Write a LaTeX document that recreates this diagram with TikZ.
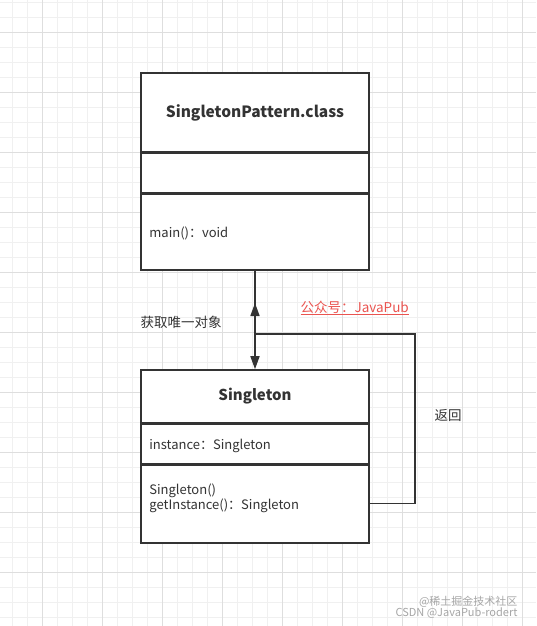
\documentclass[tikz,border=0pt]{standalone}
\usepackage{fontspec}
\setmainfont{Noto Sans CJK SC}
\usepackage{xcolor}
\usepackage{tikz}
\usetikzlibrary{positioning, arrows.meta}
\definecolor{umlline}{RGB}{51, 51, 51}
\definecolor{redanno}{RGB}{234, 84, 80}
\definecolor{gridminor}{RGB}{240, 240, 240}
\definecolor{gridmajor}{RGB}{222, 222, 222}

\begin{document}
\begin{tikzpicture}[x=1pt, y=-1pt,
  classbox/.style={draw=umlline, line width=1.6pt, fill=white, minimum width=228pt, inner sep=0pt},
  member/.style={anchor=west, inner sep=0pt, font=\fontsize{13}{15}\selectfont, text=umlline},
  sep/.style={umlline, line width=2.6pt},
  conn/.style={umlline, line width=1.6pt},
  tip/.style={-{Triangle[length=13pt, width=9pt]}},
  anno/.style={font=\fontsize{13.5}{15}\selectfont, text=umlline}]
\useasboundingbox (0,0) rectangle (536,626);
\fill[white] (0,0) rectangle (536,626);
\foreach \gx in {12,27,...,536} \draw[gridminor, line width=0.6pt] (\gx,0) -- (\gx,626);
\foreach \gy in {2,17,...,626} \draw[gridminor, line width=0.6pt] (0,\gy) -- (536,\gy);
\foreach \gx in {42,102,...,536} \draw[gridmajor, line width=0.6pt] (\gx,0) -- (\gx,626);
\foreach \gy in {32,92,...,626} \draw[gridmajor, line width=0.6pt] (0,\gy) -- (536,\gy);

% SingletonPattern.class
\node[classbox, minimum height=79pt, font=\fontsize{15.5}{18}\selectfont\bfseries, text=umlline] (pname) at (255,112.5) {SingletonPattern.class};
\node[classbox, minimum height=41pt, below=-1.6pt of pname] (pattr) {};
\node[classbox, minimum height=77pt, below=-1.6pt of pattr] (pops) {};
\node[member] (pmain) at ([xshift=9pt, yshift=-2pt]pops.west) {main()：void};
\draw[sep] (pname.south west) -- (pname.south east);
\draw[sep] (pattr.south west) -- (pattr.south east);

% Singleton
\node[classbox, minimum height=53pt, font=\fontsize{15}{18}\selectfont\bfseries, text=umlline] (sname) at (255,396.5) {Singleton};
\node[classbox, minimum height=41pt, below=-1.6pt of sname] (sattr) {};
\node[classbox, minimum height=79pt, below=-1.6pt of sattr] (sops) {};
\node[member] (sinst) at ([xshift=9pt, yshift=-2pt]sattr.west) {instance：Singleton};
\node[member] (sctor) at ([xshift=9pt, yshift=13pt]sops.west) {Singleton()};
\node[member, below=1.5pt of sctor.south west, anchor=north west] (sget) {getInstance()：Singleton};
\draw[sep] (sname.south west) -- (sname.south east);
\draw[sep] (sattr.south west) -- (sattr.south east);

% connectors
\coordinate (turn) at (415,334);
\coordinate (ret) at (255,303);
\draw[conn, tip] (pops.south) -- (sname.north);
\draw[conn, tip] (sops.east) -| (turn) -- (pops.south |- turn) -- (ret);

\node[anno, anchor=west] (lget) at (137,322) {获取唯一对象};
\node[anno, anchor=west, text=redanno] (lpub) at (297,308) {\underline{公众号：JavaPub}};
\node[anno, anchor=west] (lback) at (431,415) {返回};

% watermark
\node[anchor=east, text=gray!70, font=\fontsize{11}{12}\selectfont] (wm1) at (521,602) {@稀土掘金技术社区};
\node[anchor=east, text=gray!70, font=\fontsize{11}{12}\selectfont] (wm2) at (521,613) {CSDN @JavaPub-rodert};
\end{tikzpicture}
\end{document}
